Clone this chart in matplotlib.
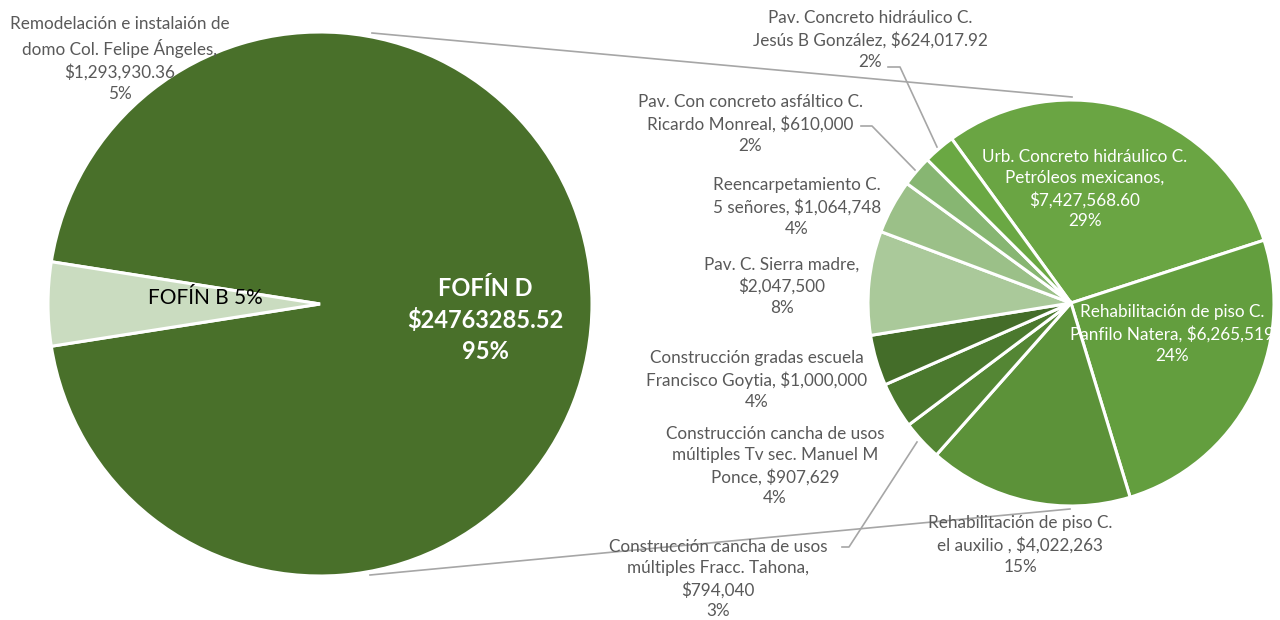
import matplotlib
matplotlib.use("Agg")
import matplotlib.pyplot as plt

# ---- data ----
main_labels = ["FOFÍN D", "FOFÍN B"]
main_values = [24763285.52, 1293930.36]

sub_labels = [
    "Urb. Concreto hidráulico C.\nPetróleos mexicanos,\n$7,427,568.60\n29%",
    "Rehabilitación de piso C.\nPanfilo Natera, $6,265,519\n24%",
    "Rehabilitación de piso C.\nel auxilio , $4,022,263\n15%",
    "Construcción cancha de usos\nmúltiples Fracc. Tahona,\n$794,040\n3%",
    "Construcción cancha de usos\nmúltiples Tv sec. Manuel M\nPonce, $907,629\n4%",
    "Construcción gradas escuela\nFrancisco Goytia, $1,000,000\n4%",
    "Pav. C. Sierra madre,\n$2,047,500\n8%",
    "Reencarpetamiento C.\n5 señores, $1,064,748\n4%",
    "Pav. Con concreto asfáltico C.\nRicardo Monreal, $610,000\n2%",
    "Pav. Concreto hidráulico C.\nJesús B González, $624,017.92\n2%",
]
sub_values = [7427568.60, 6265519, 4022263, 794040, 907629, 1000000,
              2047500, 1064748, 610000, 624017.92]

main_colors = ["#49702a", "#cadcc0"]
sub_colors = ["#6aa543", "#639e3e", "#5c9239", "#548634", "#4b792e", "#446d29",
              "#aac99a", "#9bc088", "#87b672", "#6aa843"]

FONT = ["Lato", "DejaVu Sans"]
GRAY = "#595959"

W, H = 1280, 620
fig = plt.figure(figsize=(12.8, 6.2), dpi=100)
ax = fig.add_axes([0, 0, 1, 1])

def P(x, y):
    return (x, H - y)

# left pie
total = sum(main_values)
start_main = 180 + 180 * main_values[1] / total
ax.pie(main_values, colors=main_colors, startangle=start_main, counterclock=True,
       center=P(320, 304), radius=272,
       wedgeprops=dict(edgecolor="white", linewidth=2.2))

# right pie
ax.pie(sub_values, colors=sub_colors, startangle=126, counterclock=False,
       center=P(1071, 303), radius=203,
       wedgeprops=dict(edgecolor="white", linewidth=2.2))

ax.set_xlim(0, W)
ax.set_ylim(0, H)
ax.set_aspect("equal")
ax.axis("off")

# connector lines
ax.plot(*zip(P(372, 33), P(1072, 97)), color="#a6a6a6", lw=1.2, zorder=0.5)
ax.plot(*zip(P(370, 575), P(1070, 509)), color="#a6a6a6", lw=1.2, zorder=3)

fs = 12.3
LS = 1.4
# left pie labels
ax.text(*P(120, 59), "Remodelación e instalaión de\ndomo Col. Felipe Ángeles,\n$1,293,930.36\n5%",
        ha="center", va="center", color=GRAY, fontsize=fs, family=FONT, linespacing=LS)
ax.text(*P(205, 298), "FOFÍN B 5%", ha="center", va="center", color="black",
        fontsize=15, family=FONT)
ax.text(*P(485, 320), "FOFÍN D\n$24763285.52\n95%", ha="center", va="center",
        color="white", fontsize=17, fontweight="bold", family=FONT, linespacing=1.42)

# right pie labels: (x, y, color)
pos = [
    (1085, 189, "white"),
    (1172, 334, "white"),
    (1020, 545, GRAY),
    (718, 579, GRAY),
    (775, 466, GRAY),
    (757, 380, GRAY),
    (782, 286, GRAY),
    (797, 207, GRAY),
    (750, 124, GRAY),
    (870, 40, GRAY),
]
for lab, (x, y, c) in zip(sub_labels, pos):
    ax.text(*P(x, y), lab, ha="center", va="center", color=c, fontsize=fs,
            family=FONT, linespacing=LS, zorder=4, clip_on=False)

# leader lines
LC = "#a6a6a6"
for pts in [
    [(888, 67), (900, 67), (937, 147)],
    [(861, 126), (872, 126), (915, 170)],
    [(842, 547), (849, 547), (917, 442)],
]:
    xs, ys = zip(*[P(a, b) for a, b in pts])
    ax.plot(xs, ys, color=LC, lw=1.2, zorder=3)

fig.savefig("out.png", dpi=100, facecolor="white")
